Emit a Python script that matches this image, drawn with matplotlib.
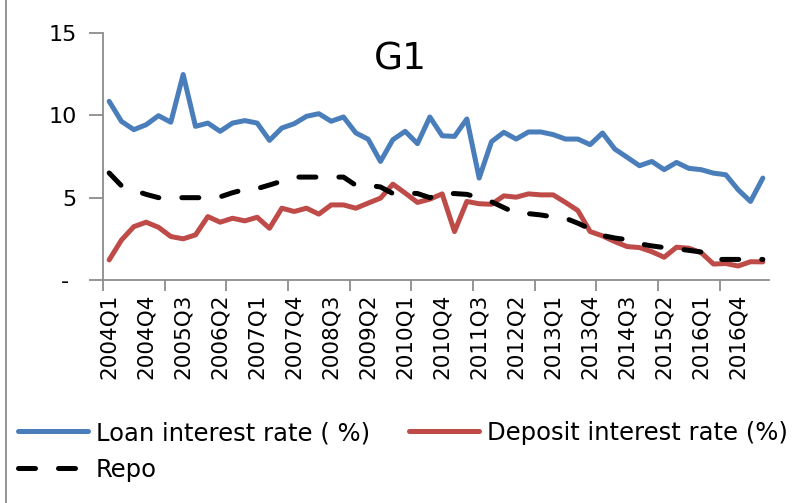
import matplotlib
matplotlib.use("Agg")
import matplotlib.pyplot as plt
from matplotlib.lines import Line2D
import numpy as np

quarters = [f"{y}Q{q}" for y in range(2004, 2018) for q in range(1, 5)][:54]

loan = [10.85, 9.63, 9.13, 9.43, 9.98, 9.58, 12.48, 9.33, 9.53, 9.03,
        9.53, 9.68, 9.53, 8.48, 9.23, 9.49, 9.94, 10.1, 9.64, 9.9,
        8.93, 8.55, 7.2, 8.52, 9.03, 8.28, 9.9, 8.76, 8.72, 9.78,
        6.19, 8.4, 8.97, 8.56, 8.99, 8.99, 8.83, 8.56, 8.56, 8.22,
        8.93, 7.95, 7.45, 6.94, 7.2, 6.7, 7.14, 6.78, 6.7, 6.49,
        6.39, 5.48, 4.77, 6.19]

deposit = [1.22, 2.43, 3.24, 3.51, 3.2, 2.64, 2.5, 2.74, 3.85, 3.51,
           3.75, 3.59, 3.81, 3.14, 4.36, 4.16, 4.36, 4.0, 4.56, 4.56,
           4.36, 4.67, 4.97, 5.82, 5.28, 4.71, 4.91, 5.23, 2.94, 4.77,
           4.63, 4.6, 5.11, 5.03, 5.23, 5.17, 5.17, 4.71, 4.22, 2.94,
           2.68, 2.33, 2.03, 1.97, 1.72, 1.38, 1.99, 1.93, 1.66, 0.97,
           1.0, 0.85, 1.11, 1.1]

repo = [6.5, 5.72, 5.45, 5.2, 5.0, 5.0, 5.0, 5.0, 5.0, 5.05,
        5.3, 5.5, 5.55, 5.77, 6.0, 6.25, 6.25, 6.25, 6.25, 6.25,
        5.75, 5.75, 5.65, 5.25, 5.3, 5.25, 5.0, 5.25, 5.25, 5.2,
        5.0, 4.75, 4.4, 4.05, 4.03, 3.95, 3.83, 3.75, 3.45, 3.1,
        2.7, 2.55, 2.45, 2.2, 2.07, 1.97, 1.9, 1.8, 1.7, 1.25,
        1.25, 1.25, 1.25, 1.25]

series_labels = ["Loan interest rate ( %)", "Deposit interest rate (%)", "Repo"]
title_text = "G1"
yticks = [0, 5, 10, 15]
ytick_labels = ["- ", "5", "10", "15"]

plt.rcParams['font.family'] = ['DejaVu Sans']
FS = 15.5
LFS = 17.5

fig = plt.figure(figsize=(7.93, 5.03), dpi=100)
ax = fig.add_axes([103/793, 1-280/503, (769-103)/793, (280-33)/503])

x = np.arange(len(quarters))
blue = '#4A7EBB'
red = '#BE4B48'
l1, = ax.plot(x, loan, color=blue, lw=3.6, solid_capstyle='round', solid_joinstyle='round')
l2, = ax.plot(x, deposit, color=red, lw=3.6, solid_capstyle='round', solid_joinstyle='round')
l3, = ax.plot(x, repo, color='black', lw=3.6, dashes=(3.4, 4.6), dash_capstyle='round')

ax.set_xlim(-0.5, len(quarters) - 0.5)
ax.set_ylim(0, 15)

for s in ['top', 'right']:
    ax.spines[s].set_visible(False)
for s in ['left', 'bottom']:
    ax.spines[s].set_color('#8C8C8C')
    ax.spines[s].set_linewidth(1.3)

ax.set_yticks(yticks)
ax.set_yticklabels(ytick_labels, fontsize=FS + 0.5)
ax.tick_params(axis='y', length=10, width=1.3, color='#8C8C8C', pad=9)

lab_idx = x[::3]
ax.set_xticks(lab_idx)
ax.set_xticklabels([quarters[i] for i in lab_idx], rotation=90, fontsize=FS)
ax.set_xticks(np.arange(-0.5, len(quarters), 5), minor=True)
ax.tick_params(axis='x', which='major', length=0, pad=10)
ax.tick_params(axis='x', which='minor', length=8, width=1.3, color='#8C8C8C')

ax.text(400/793, 1-60/503, title_text, transform=fig.transFigure, fontsize=27,
        ha='center', va='center')

fig.legend([l1, l3, l2], [series_labels[0], series_labels[2], series_labels[1]],
           ncol=2, loc='upper left', bbox_to_anchor=(18/793, 1-421/503),
           frameon=False, fontsize=LFS, handlelength=2.9, handletextpad=0.3,
           columnspacing=1.6, labelspacing=0.52, borderpad=0, borderaxespad=0)

fig.add_artist(Line2D([6/793, 6/793], [0, 1], transform=fig.transFigure,
                      color='#8C8C8C', lw=1.3))

fig.savefig('out.png', dpi=100)
